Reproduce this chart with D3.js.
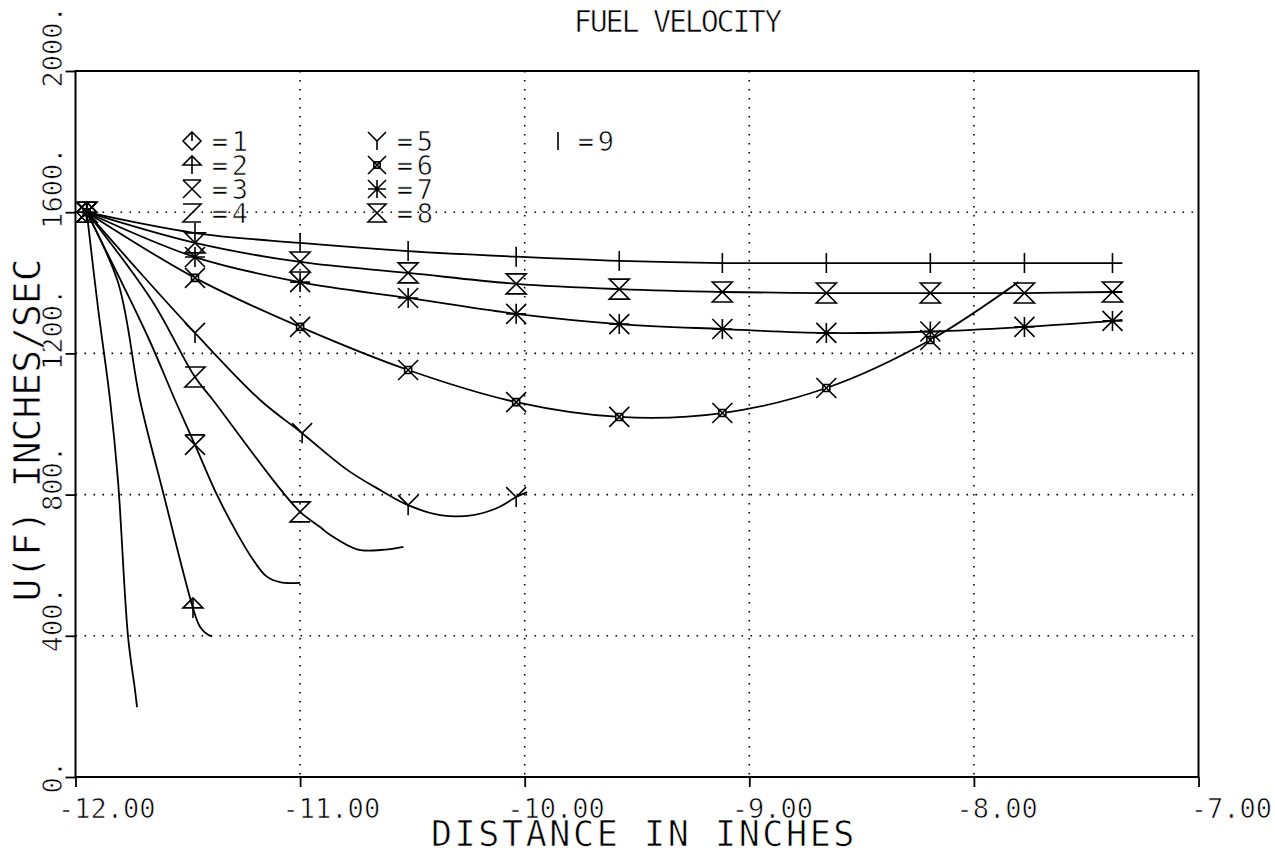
<!DOCTYPE html>
<html><head><meta charset="utf-8">
<script src="https://cdn.jsdelivr.net/npm/d3@7"></script>
<style>
body{margin:0;background:#fff}
svg text{font-family:"DejaVu Sans Mono",monospace;fill:#000;stroke:#fff;stroke-width:0.7px}
</style></head><body>
<svg id="c" width="1275" height="853"></svg>
<script>
// ---- data ----
const xTicks = [-12, -11, -10, -9, -8, -7];
const yTicks = [0, 400, 800, 1200, 1600, 2000];
const seriesNames = ["1", "2", "3", "4", "5", "6", "7", "8", "9"];
const markerTypes = ["diamond", "arrow", "xbar", "z", "y", "xsquare", "star", "hourglass", "bar"];

const curve1 = [[-11.95,1600],[-11.90,1330],[-11.846,1068],[-11.811,841],[-11.766,397],[-11.735,246],[-11.726,198]];
const curve2 = [[-11.95,1600],[-11.81,1400],[-11.713,1068],[-11.624,841],[-11.607,799],[-11.477,479],[-11.445,425],[-11.41,403],[-11.392,399]];
const curve3 = [[-11.95,1600],[-11.68,1250],[-11.557,1068],[-11.468,941],[-11.37,799],[-11.281,691],[-11.214,620],[-11.151,569],[-11.09,552],[-11.0,550]];
const curve4 = [[-11.95,1600],[-11.66,1350],[-11.468,1133],[-11.388,1068],[-11.12,841],[-11.0,751],[-10.911,708],[-10.867,686],[-10.747,645],[-10.64,643],[-10.54,652]];
const curve5 = [[-11.95,1600],[-11.70,1420],[-11.468,1258],[-11.178,1068],[-10.991,974],[-10.79,870],[-10.644,813],[-10.519,770],[-10.376,742],[-10.229,742],[-10.123,762],[-10.038,793],[-9.989,807]];
const curve6 = [[-11.95,1600],[-11.468,1414],[-11.0,1275],[-10.519,1153],[-10.038,1062],[-9.579,1020],[-9.12,1031],[-8.657,1102],[-8.194,1238],[-7.802,1402]];
const curve7 = [[-11.95,1600],[-11.468,1473],[-11.0,1402],[-10.519,1357],[-10.038,1312],[-9.579,1283],[-9.12,1269],[-8.657,1258],[-8.194,1262],[-7.775,1275],[-7.383,1292],[-7.339,1295]];
const curve8 = [[-11.95,1600],[-11.468,1513],[-11.0,1459],[-10.519,1428],[-10.038,1397],[-9.579,1382],[-9.12,1374],[-8.657,1371],[-8.194,1371],[-7.775,1371],[-7.383,1374],[-7.339,1374]];
const curve9 = [[-11.95,1600],[-11.468,1541],[-11.0,1513],[-10.519,1490],[-10.038,1474],[-9.579,1462],[-9.12,1456],[-8.657,1456],[-8.194,1456],[-7.775,1456],[-7.383,1456],[-7.339,1456]];
// indices of points that carry a symbol
const marks1 = [0];
const marks2 = [0, 5];
const marks3 = [0, 3];
const marks4 = [0, 2, 5];
const marks5 = [0, 2, 4, 7, 11];
const marks6 = [0, 1, 2, 3, 4, 5, 6, 7, 8];
const marks7 = [0, 1, 2, 3, 4, 5, 6, 7, 8, 9, 10];
const marks8 = [0, 1, 2, 3, 4, 5, 6, 7, 8, 9, 10];
const marks9 = [0, 1, 2, 3, 4, 5, 6, 7, 8, 9, 10];

const curves = [curve1, curve2, curve3, curve4, curve5, curve6, curve7, curve8, curve9];
const marks = [marks1, marks2, marks3, marks4, marks5, marks6, marks7, marks8, marks9];

// ---- drawing ----
const svg = d3.select("#c");
const x = d3.scaleLinear().domain([-12, -7]).range([75.5, 1198.5]);
const y = d3.scaleLinear().domain([0, 2000]).range([777, 71]);

function sym(type, s) {
  const p = d3.path();
  switch (type) {
    case "diamond":
      p.moveTo(0, -s); p.lineTo(s, 0); p.lineTo(0, s); p.lineTo(-s, 0); p.closePath();
      p.moveTo(0, 0); p.lineTo(0, -s); break;
    case "arrow":
      p.moveTo(-s, 0); p.lineTo(0, -s); p.lineTo(s, 0); p.closePath();
      p.moveTo(0, -s); p.lineTo(0, s); break;
    case "xbar":
      p.moveTo(-s, -s); p.lineTo(s, -s);
      p.moveTo(-s, -s); p.lineTo(s, s);
      p.moveTo(s, -s); p.lineTo(-s, s); break;
    case "z":
      p.moveTo(-s, -s); p.lineTo(s, -s); p.lineTo(-s, s); p.lineTo(s, s); break;
    case "y":
      p.moveTo(-s, -s); p.lineTo(0, 0); p.lineTo(s, -s);
      p.moveTo(0, 0); p.lineTo(0, s); break;
    case "xsquare": {
      const q = s * 0.35;
      p.moveTo(-s, -s); p.lineTo(s, s); p.moveTo(s, -s); p.lineTo(-s, s);
      p.rect(-q, -q, 2 * q, 2 * q); break;
    }
    case "star":
      p.moveTo(-s, -s); p.lineTo(s, s); p.moveTo(s, -s); p.lineTo(-s, s);
      p.moveTo(0, -s); p.lineTo(0, s); p.moveTo(-s, 0); p.lineTo(s, 0); break;
    case "hourglass":
      p.moveTo(-s, -s); p.lineTo(s, -s); p.lineTo(-s, s); p.lineTo(s, s); p.closePath(); break;
    case "bar":
      p.moveTo(0, -s); p.lineTo(0, s); break;
  }
  return p.toString();
}

// grid (dotted)
const grid = svg.append("g").attr("stroke", "#000").attr("stroke-width", 1.6)
  .attr("stroke-dasharray", "1.6,7.4");
grid.selectAll("line.h").data(yTicks.filter(v => v > 0 && v < 2000)).join("line")
  .attr("x1", x(-12)).attr("x2", x(-7)).attr("y1", d => y(d)).attr("y2", d => y(d));
grid.selectAll("line.v").data(xTicks.filter(v => v > -12 && v < -7)).join("line")
  .attr("y1", y(2000)).attr("y2", y(0)).attr("x1", d => x(d)).attr("x2", d => x(d));

// frame
svg.append("rect").attr("x", x(-12)).attr("y", y(2000))
  .attr("width", x(-7) - x(-12)).attr("height", y(0) - y(2000))
  .attr("fill", "none").attr("stroke", "#000").attr("stroke-width", 2);

// axes
const fs = 27;
const tickFont = '"DejaVu Sans Mono",monospace';
const xAxis = svg.append("g").attr("transform", `translate(0,${y(0)})`)
  .call(d3.axisBottom(x).tickValues(xTicks).tickSize(10).tickFormat(d => d.toFixed(2)));
xAxis.select(".domain").remove();
xAxis.selectAll(".tick line").attr("stroke-width", 1.8);
xAxis.selectAll(".tick text")
  .attr("text-anchor", d => d === -7 ? "end" : "start")
  .attr("x", d => d === -7 ? 73 : -18).attr("y", 41)
  .attr("dy", null).attr("font-size", fs).style("font-family", tickFont);

const yAxis = svg.append("g").attr("transform", `translate(${x(-12)},0)`)
  .call(d3.axisLeft(y).tickValues(yTicks).tickSize(10).tickFormat(d => d + "."));
yAxis.select(".domain").remove();
yAxis.selectAll(".tick line").attr("stroke-width", 1.8);
yAxis.selectAll(".tick text").attr("transform", "rotate(-90)").attr("text-anchor", "start")
  .attr("x", -16).attr("y", -13.5).attr("dy", null).attr("font-size", fs).style("font-family", tickFont);

// titles
svg.append("text").attr("x", 780).attr("y", 32).attr("text-anchor", "end")
  .attr("font-size", 30).attr("letter-spacing", -2.2).text("FUEL VELOCITY");
svg.append("text").attr("x", 644).attr("y", 846).attr("text-anchor", "middle")
  .attr("font-size", 35).attr("letter-spacing", 2.6).text("DISTANCE IN INCHES");
svg.append("text").attr("transform", "translate(40,430) rotate(-90)").attr("text-anchor", "middle")
  .attr("font-size", 38).text("U(F) INCHES/SEC");

// curves
const line = d3.line().x(d => x(d[0])).y(d => y(d[1])).curve(d3.curveCatmullRom.alpha(0.5));
const plot = svg.append("g");
curves.forEach((c, i) => {
  plot.append("path").attr("d", line(c)).attr("fill", "none")
    .attr("stroke", "#000").attr("stroke-width", 1.8);
  plot.selectAll(null).data(marks[i].map(k => c[k])).join("path")
    .attr("transform", d => `translate(${x(d[0])},${y(d[1])})`)
    .attr("d", sym(markerTypes[i], 10))
    .attr("fill", markerTypes[i] === "xsquare" ? "#fff" : "none")
    .attr("stroke", "#000").attr("stroke-width", 1.6);
});

// legend
const legendPos = [
  [192, 141], [192, 165], [192, 189], [192, 213],
  [377, 141], [377, 165], [377, 189], [377, 213],
  [558, 141]
];
const leg = svg.append("g");
seriesNames.forEach((name, i) => {
  const [lx, ly] = legendPos[i];
  leg.append("path").attr("transform", `translate(${lx},${ly})`)
    .attr("d", sym(markerTypes[i], 9)).attr("fill", "none")
    .attr("stroke", "#000").attr("stroke-width", 1.6);
  const t = leg.append("text").attr("y", ly + 10).attr("font-size", 27);
  t.append("tspan").attr("x", lx + 28).attr("text-anchor", "middle").text("=");
  t.append("tspan").attr("x", lx + 48).attr("text-anchor", "middle").text(name);
});
</script></body></html>
